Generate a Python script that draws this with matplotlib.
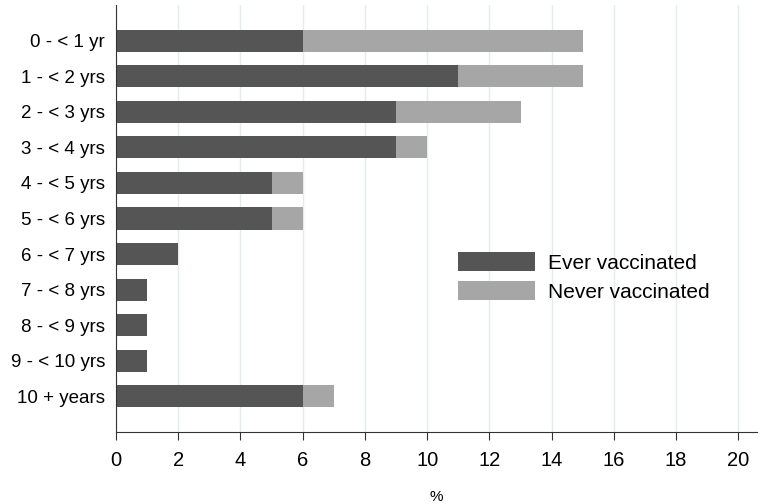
import matplotlib.pyplot as plt
import numpy as np

plt.rcParams['font.family'] = ['Liberation Sans', 'DejaVu Sans']

categories = ['0 - < 1 yr', '1 - < 2 yrs', '2 - < 3 yrs', '3 - < 4 yrs', '4 - < 5 yrs',
              '5 - < 6 yrs', '6 - < 7 yrs', '7 - < 8 yrs', '8 - < 9 yrs', '9 - < 10 yrs',
              '10 + years']
ever = [6, 11, 9, 9, 5, 5, 2, 1, 1, 1, 6]
never = [9, 4, 4, 1, 1, 1, 0, 0, 0, 0, 1]

dark = '#555555'
light = '#a6a6a6'

fig = plt.figure(figsize=(7.62, 5.04), dpi=100)
ax = fig.add_axes([116 / 762, 1 - 432 / 504, 641 / 762, 427 / 504])

y = np.arange(len(categories))
ax.barh(y, ever, height=0.62, color=dark, label='Ever vaccinated', zorder=2)
ax.barh(y, never, left=ever, height=0.62, color=light, label='Never vaccinated', zorder=2)

ax.set_ylim(len(categories), -1)
ax.set_xlim(0, 20.6)
ax.set_yticks(y)
ax.set_yticklabels(categories, fontsize=13.5)
ax.set_xticks(range(0, 21, 2))
ax.tick_params(axis='x', labelsize=14.5, length=6, color='#333333', pad=8)
ax.tick_params(axis='y', length=0, pad=8)
ax.grid(axis='x', color='#e4ecee', linewidth=1, zorder=0)
ax.set_axisbelow(True)

for s in ['top', 'right']:
    ax.spines[s].set_visible(False)
for s in ['left', 'bottom']:
    ax.spines[s].set_color('#333333')

ax.set_xlabel('%', fontsize=11, labelpad=14)

ax.legend(loc='upper left', bbox_to_anchor=(0.5335, 0.422), frameon=False, fontsize=15,
          borderaxespad=0, borderpad=0,
          handlelength=3.7, handleheight=1.05, labelspacing=0.4, handletextpad=0.6)

fig.savefig('out.png', dpi=100)
